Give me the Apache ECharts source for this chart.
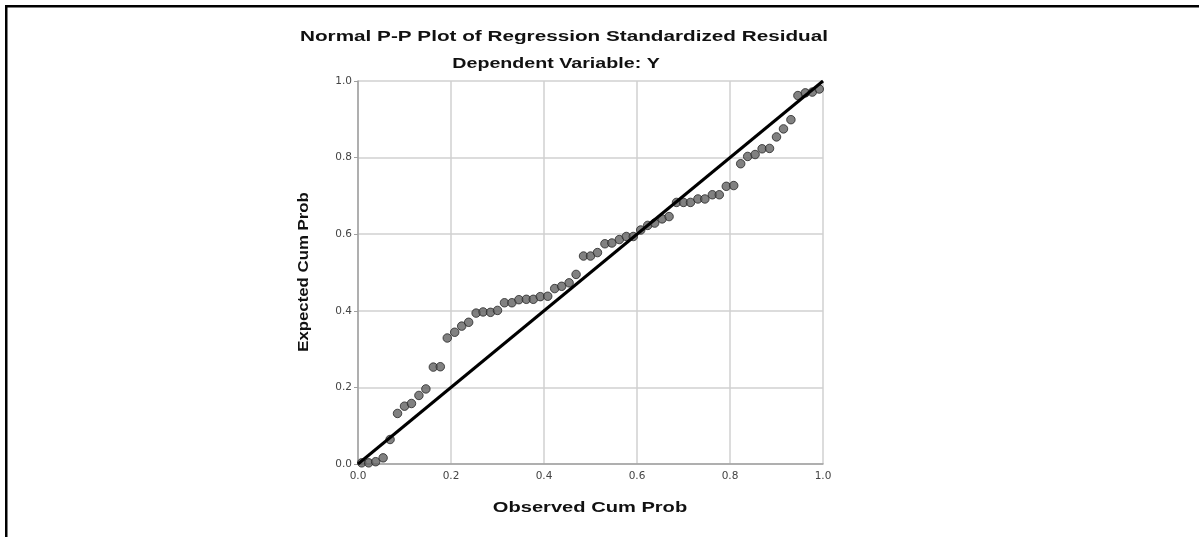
<!DOCTYPE html>
<html>
<head>
<meta charset="utf-8">
<script src="https://cdn.jsdelivr.net/npm/echarts@6/dist/echarts.min.js"></script>
<style>
  html, body { margin: 0; padding: 0; background: #fff; }
  #chart { width: 1199px; height: 537px; }
</style>
</head>
<body>
<div id="chart"></div>
<script>
// observed cumulative probability (x) for each residual
const observed = [
  0.008, 0.023, 0.038, 0.054, 0.069, 0.085, 0.100, 0.115, 0.131, 0.146,
  0.162, 0.177, 0.192, 0.208, 0.223, 0.238, 0.254, 0.269, 0.285, 0.300,
  0.315, 0.331, 0.346, 0.362, 0.377, 0.392, 0.408, 0.423, 0.438, 0.454,
  0.469, 0.485, 0.500, 0.515, 0.531, 0.546, 0.562, 0.577, 0.592, 0.608,
  0.623, 0.638, 0.654, 0.669, 0.685, 0.700, 0.715, 0.731, 0.746, 0.762,
  0.777, 0.792, 0.808, 0.823, 0.838, 0.854, 0.869, 0.885, 0.900, 0.915,
  0.931, 0.946, 0.962, 0.977, 0.992
]
// expected cumulative probability (y)
const expected = [
  0.003, 0.003, 0.006, 0.016, 0.064, 0.132, 0.151, 0.158, 0.179, 0.196,
  0.253, 0.254, 0.329, 0.344, 0.360, 0.370, 0.394, 0.397, 0.396, 0.401,
  0.421, 0.421, 0.429, 0.430, 0.430, 0.437, 0.438, 0.458, 0.464, 0.473,
  0.495, 0.543, 0.543, 0.552, 0.575, 0.577, 0.586, 0.594, 0.594, 0.611,
  0.623, 0.629, 0.640, 0.646, 0.683, 0.683, 0.683, 0.692, 0.692, 0.703,
  0.703, 0.725, 0.727, 0.784, 0.803, 0.808, 0.823, 0.824, 0.854, 0.875,
  0.899, 0.962, 0.969, 0.971, 0.979
]
const refLineX = [0, 1]
const refLineY = [0, 1]
const axisTicks = [0, 0.2, 0.4, 0.6, 0.8, 1.0]

const FONT = '"Liberation Sans", Arial, sans-serif'
const LABEL_FONT = '"DejaVu Sans", "Liberation Sans", sans-serif'

const chart = echarts.init(document.getElementById('chart'))

function axis(isY) {
  return {
    type: 'value',
    min: axisTicks[0],
    max: axisTicks[axisTicks.length - 1],
    interval: 0.2,
    axisLine: { show: true, lineStyle: { color: '#a0a0a0', width: 1.5 } },
    axisTick: { show: isY, length: 4, lineStyle: { color: '#a0a0a0' } },
    axisLabel: {
      fontFamily: LABEL_FONT, fontSize: 10.5, color: '#444', margin: isY ? 6 : 7,
      formatter: (v) => v.toFixed(1)
    },
    splitLine: { show: true, lineStyle: { color: '#d0d0d0', width: 1.5 } }
  }
}

// bold text, stretched a little like the SPSS export
function label(text, x, y, scale, rotate) {
  return {
    type: 'text',
    x: x, y: y,
    scaleX: scale,
    rotation: rotate ? Math.PI / 2 : 0,
    silent: true,
    style: {
      text: text,
      fontFamily: FONT, fontWeight: 'bold', fontSize: 15,
      fill: '#111', align: 'center', verticalAlign: 'middle'
    }
  }
}

chart.setOption({
  backgroundColor: '#fff',
  animation: false,
  graphic: [
    { type: 'rect', shape: { x: 5, y: 5, width: 1194, height: 2.5 }, style: { fill: '#000' } },
    { type: 'rect', shape: { x: 5, y: 5, width: 2.5, height: 532 }, style: { fill: '#000' } },
    label('Normal P-P Plot of Regression Standardized Residual', 564, 37, 1.38),
    label('Dependent Variable: Y', 556, 64, 1.31),
    label('Observed Cum Prob', 590, 508, 1.34),
    label('Expected Cum Prob', 304, 272, 1.12, true)
  ],
  grid: { left: 358, right: 376, top: 81, bottom: 73, containLabel: false },
  xAxis: axis(false),
  yAxis: axis(true),
  series: [
    {
      type: 'scatter',
      data: observed.map((x, i) => [x, expected[i]]),
      symbol: 'circle',
      symbolSize: 8.5,
      itemStyle: { color: '#626262', borderColor: '#262626', borderWidth: 1 },
      z: 3
    },
    {
      type: 'line',
      data: refLineX.map((x, i) => [x, refLineY[i]]),
      symbol: 'none',
      lineStyle: { color: '#000', width: 3 },
      z: 4
    }
  ]
})
</script>
</body>
</html>
